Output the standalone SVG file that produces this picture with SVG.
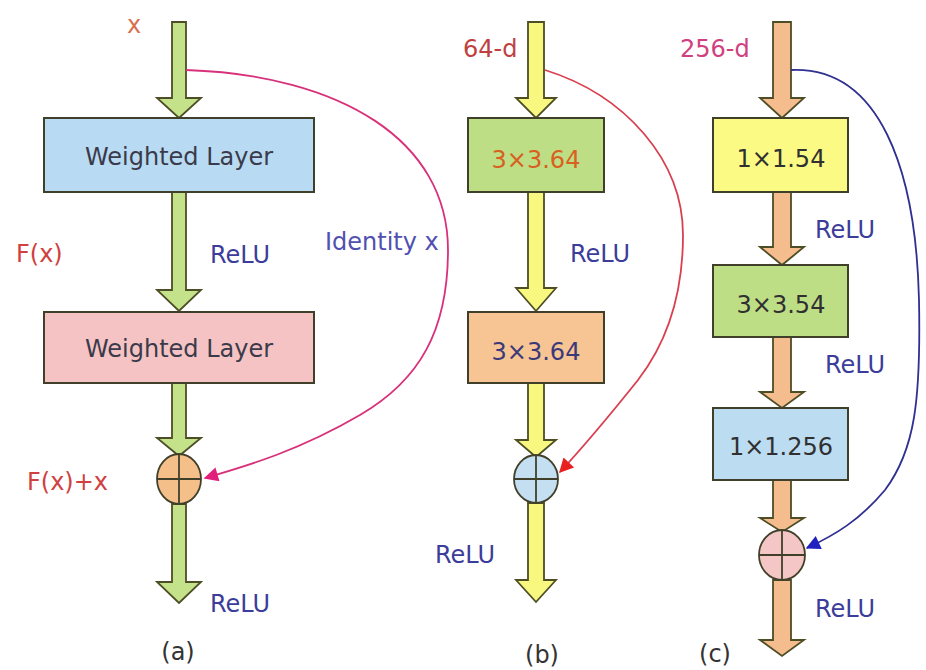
<svg xmlns="http://www.w3.org/2000/svg" width="926" height="670" viewBox="0 0 926 670">
<defs>
<style>
text{font-family:"DejaVu Sans",Verdana,sans-serif;font-size:24px}
.arr{stroke:#4d4d26;stroke-width:1.8;stroke-linejoin:miter}
.box{stroke:#40402a;stroke-width:2}
.sum{stroke:#40402a;stroke-width:1.8}
.relu{fill:#3c3c9a}
.mid{text-anchor:middle}
.skip{fill:none;stroke-width:1.8}
</style>
<marker id="mA" viewBox="0 0 10 10" refX="9" refY="5" markerWidth="10" markerHeight="8" orient="auto" markerUnits="strokeWidth"><path d="M0,0 L10,5 L0,10 z" fill="#e0207a"/></marker>
<marker id="mB" viewBox="0 0 10 10" refX="9" refY="5" markerWidth="10" markerHeight="8" orient="auto" markerUnits="strokeWidth"><path d="M0,0 L10,5 L0,10 z" fill="#e82020"/></marker>
<marker id="mC" viewBox="0 0 10 10" refX="9" refY="5" markerWidth="10" markerHeight="8" orient="auto" markerUnits="strokeWidth"><path d="M0,0 L10,5 L0,10 z" fill="#2020c0"/></marker>
</defs>
<rect width="926" height="670" fill="#ffffff"/>

<g id="connectors">
<!-- (a) -->
<polygon class="arr" fill="#c4e28a" points="172,22 186,22 186,98 201,98 179,118 157,98 172,98"/>
<polygon class="arr" fill="#c4e28a" points="172,192 186,192 186,290 201,290 179,311 157,290 172,290"/>
<polygon class="arr" fill="#c4e28a" points="172,383 186,383 186,438 201,438 179,456 157,438 172,438"/>
<polygon class="arr" fill="#c4e28a" points="172,504 186,504 186,582 201,582 179,603 157,582 172,582"/>
<path class="skip" stroke="#d8307a" marker-end="url(#mA)" d="M186,70 C340,75 448,140 448,250 C448,330 420,380 360,415 C300,450 250,465 205,478"/>
<!-- (b) -->
<polygon class="arr" fill="#f8f880" points="528,22 544,22 544,98 556,98 536,118 516,98 528,98"/>
<polygon class="arr" fill="#f8f880" points="528,192 544,192 544,288 556,288 536,311 516,288 528,288"/>
<polygon class="arr" fill="#f8f880" points="528,383 544,383 544,440 556,440 536,457 516,440 528,440"/>
<polygon class="arr" fill="#f8f880" points="528,503 544,503 544,580 556,580 536,602 516,580 528,580"/>
<path class="skip" stroke="#d84050" marker-end="url(#mB)" d="M545,70 C625,95 683,160 683,235 C683,300 665,345 638,380 C610,415 585,445 560,472"/>
<!-- (c) -->
<polygon class="arr" fill="#f5bd8e" points="773,22 791,22 791,98 804,98 782,118 760,98 773,98"/>
<polygon class="arr" fill="#f5bd8e" points="773,192 791,192 791,247 804,247 782,265 760,247 773,247"/>
<polygon class="arr" fill="#f5bd8e" points="773,337 791,337 791,392 804,392 782,408 760,392 773,392"/>
<polygon class="arr" fill="#f5bd8e" points="773,480 791,480 791,518 804,518 782,532 760,518 773,518"/>
<polygon class="arr" fill="#f5bd8e" points="773,580 791,580 791,640 804,640 782,656 760,640 773,640"/>
<path class="skip" stroke="#303090" marker-end="url(#mC)" d="M791,70 C880,66 916,170 919,300 C921,400 915,450 885,490 C860,520 835,535 807,548"/>
</g>

<g id="a-layer1"><rect class="box" x="44" y="118" width="270" height="74" fill="#b8daf2"/><text class="mid" x="179" y="165" fill="#3a3a4a">Weighted Layer</text></g>
<g id="a-layer2"><rect class="box" x="44" y="312" width="270" height="71" fill="#f5c3c3"/><text class="mid" x="179" y="357" fill="#3a3a4a">Weighted Layer</text></g>
<g id="a-sum"><ellipse class="sum" cx="179" cy="479" rx="22" ry="25" fill="#f5bf8a"/><line class="sum" x1="179" y1="454" x2="179" y2="504"/><line class="sum" x1="157" y1="479" x2="201" y2="479"/></g>

<g id="b-conv1"><rect class="box" x="468" y="118" width="136" height="74" fill="#bede86"/><text class="mid" x="536" y="168" fill="#d86020">3×3.64</text></g>
<g id="b-conv2"><rect class="box" x="468" y="312" width="136" height="71" fill="#f7c493"/><text class="mid" x="536" y="360" fill="#3a3a7a">3×3.64</text></g>
<g id="b-sum"><ellipse class="sum" cx="536" cy="479" rx="22" ry="24" fill="#c4def2"/><line class="sum" x1="536" y1="455" x2="536" y2="503"/><line class="sum" x1="514" y1="479" x2="558" y2="479"/></g>

<g id="c-conv1"><rect class="box" x="713" y="118" width="135" height="74" fill="#fbfa84"/><text class="mid" x="781" y="167" fill="#303030">1×1.54</text></g>
<g id="c-conv2"><rect class="box" x="713" y="265" width="135" height="72" fill="#bede86"/><text class="mid" x="781" y="313" fill="#303030">3×3.54</text></g>
<g id="c-conv3"><rect class="box" x="713" y="408" width="135" height="72" fill="#bcdcf2"/><text class="mid" x="781" y="455" fill="#303030">1×1.256</text></g>
<g id="c-sum"><ellipse class="sum" cx="782" cy="555" rx="23" ry="25" fill="#f5c6c6"/><line class="sum" x1="782" y1="530" x2="782" y2="580"/><line class="sum" x1="759" y1="555" x2="805" y2="555"/></g>

<g id="labels">
<text x="127" y="33" fill="#d87050">x</text>
<text x="16" y="262" fill="#d04040">F(x)</text>
<text class="relu" x="210" y="263">ReLU</text>
<text x="325" y="250" fill="#5050b0">Identity x</text>
<text x="27" y="490" fill="#d04040">F(x)+x</text>
<text class="relu" x="210" y="612">ReLU</text>
<text class="mid" x="178" y="660" fill="#333">(a)</text>
<text x="463" y="57" fill="#c04040">64-d</text>
<text class="relu" x="570" y="262">ReLU</text>
<text class="relu" x="435" y="563">ReLU</text>
<text class="mid" x="542" y="663" fill="#333">(b)</text>
<text x="680" y="57" fill="#d04080">256-d</text>
<text class="relu" x="815" y="238">ReLU</text>
<text class="relu" x="825" y="373">ReLU</text>
<text class="relu" x="815" y="617">ReLU</text>
<text class="mid" x="715" y="662" fill="#333">(c)</text>
</g>
</svg>
